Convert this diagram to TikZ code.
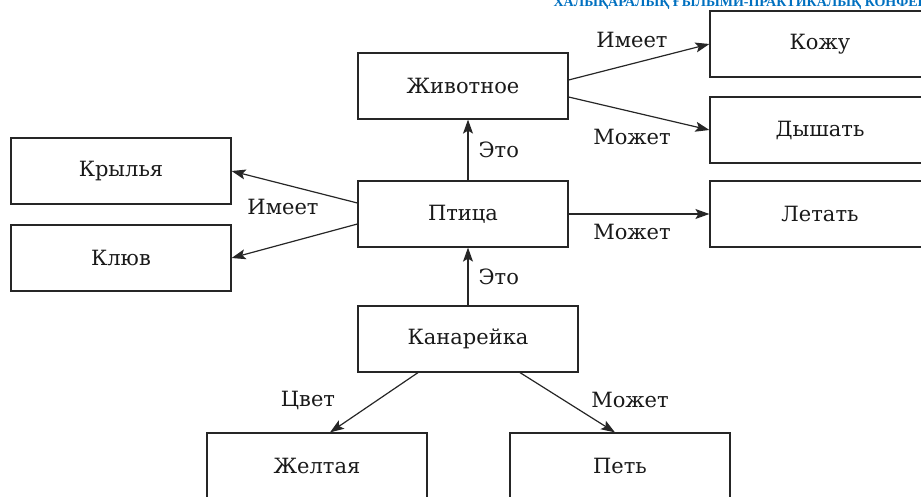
\documentclass[tikz,border=0pt]{standalone}
\usepackage{fontspec}
\setmainfont{DejaVu Serif}
\newfontfamily\headfont{Liberation Serif}
\usetikzlibrary{calc}
\usetikzlibrary{arrows.meta}
\definecolor{headblue}{RGB}{0,112,192}
\newcommand{\boxfont}{\fontsize{21}{25}\selectfont}

\begin{document}
\begin{tikzpicture}[x=1pt,y=-1pt,line width=1.2pt]
\tikzstyle{box}=[draw=black!85, rectangle, minimum width=220pt, minimum height=66pt, inner sep=0pt, font=\boxfont, text=black!90]
\tikzstyle{rel}=[inner sep=0pt, font=\boxfont, text=black!90]
\tikzstyle{arr}=[draw=black!85, -{Stealth[length=14pt,width=10pt,inset=3pt]}]
\useasboundingbox (0,0) rectangle (921,497);
\clip (0,0) rectangle (921,497);

% page header (cut by the page)
\node[anchor=base west, inner sep=0pt, text=headblue, font=\headfont\bfseries\fontsize{14}{17}\selectfont] (confhead) at (553,7) {ХАЛЫҚАРАЛЫҚ ҒЫЛЫМИ-ПРАКТИКАЛЫҚ КОНФЕРЕНЦИЯ};

% concept boxes
\node[box, minimum width=210pt] (animal) at (463,86) {Животное};
\node[box, minimum width=210pt] (bird) at (463,214) {Птица};
\node[box] (canary) at (468,339) {Канарейка};
\node[box] (skin) at (820,44) {Кожу};
\node[box] (breathe) at (820,130) {Дышать};
\node[box] (fly) at (820,214) {Летать};
\node[box] (wings) at (121,171) {Крылья};
\node[box] (beak) at (121,258) {Клюв};
\node[box] (yellow) at (317,466) {Желтая};
\node[box] (sing) at (620,466) {Петь};

% animal
\draw[arr] ($(animal.east)+(0,-6)$) -- (skin.west);
\draw[arr] ($(animal.east)+(0,11)$) -- (breathe.west);
\node[rel] (hasSkin) at (632,40) {Имеет};
\node[rel] (canBreathe) at (632,137) {Может};

% bird
\draw[arr] ($(bird.north)+(5,0)$) -- ($(animal.south)+(5,0)$) node[rel, pos=0.5, right=10pt] (isAnimal) {Это};
\draw[arr] (bird.east) -- (fly.west);
\node[rel] (canFly) at (632,232) {Может};
\draw[arr] ($(bird.west)+(0,-11)$) -- (wings.east);
\draw[arr] ($(bird.west)+(0,10)$) -- (beak.east);
\node[rel] (hasParts) at (283,207) {Имеет};

% canary
\draw[arr] (canary.north) -- (bird.south -| canary.north) node[rel, pos=0.5, right=10pt] (isBird) {Это};
\draw[arr] ($(canary.south)+(-50,0)$) -- ($(yellow.north)+(13,0)$);
\draw[arr] ($(canary.south)+(52,0)$) -- ($(sing.north)+(-5,0)$);
\node[rel] (colour) at (308,400) {Цвет};
\node[rel] (canSing) at (630,400) {Может};

\end{tikzpicture}
\end{document}
